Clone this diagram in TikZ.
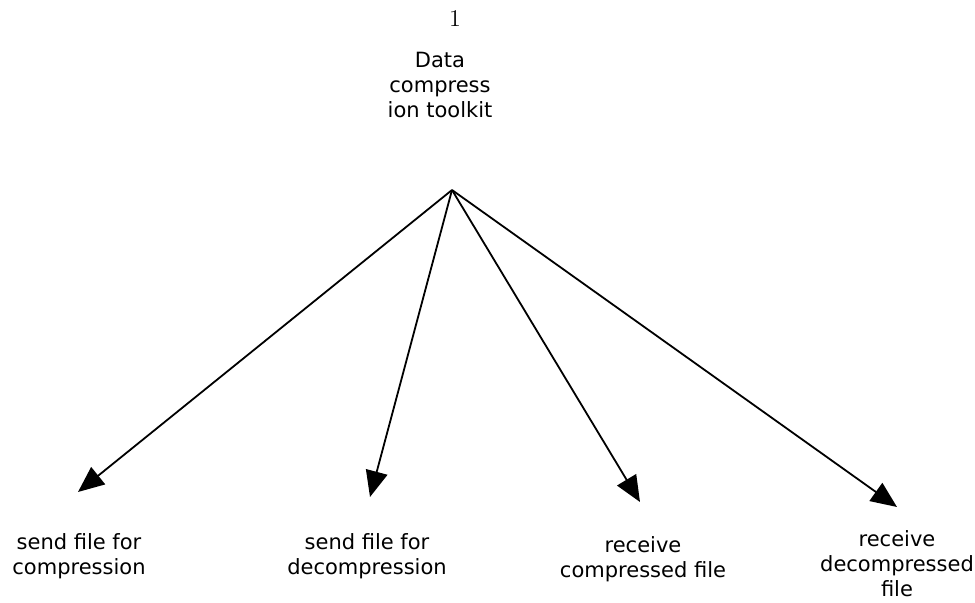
\documentclass[tikz,border=0pt]{standalone}
\usepackage{fontspec}
\newfontfamily\verd{DejaVu Sans}
\usetikzlibrary{arrows.meta,positioning}

\begin{document}
\begin{tikzpicture}[x=0.5pt, y=-0.5pt,
  lbl/.style={align=center, inner sep=0pt, anchor=north,
              font=\verd\fontsize{10.5}{12.5}\selectfont},
  ar/.style={-{Triangle[length=13pt,width=11pt]}, line width=0.9pt},
]
  \useasboundingbox (0,0) rectangle (975,603);
  % top
  \node[font=\fontsize{12}{13}\selectfont] (num) at (455,19) {1};
  \node[lbl] (toolkit) at (440,52) {Data\\ compress\\ ion toolkit};
  \coordinate (hub) at (452,190);
  % leaves
  \node[lbl] (sendc) at (79,533) {send file for\\ compression};
  \node[lbl] (sendd) at (367,533) {send file for\\ decompression};
  \node[lbl] (recvc) at (643,536) {receive\\ compressed file};
  \node[lbl] (recvd) at (897,530) {receive\\ decompressed\\ file};
  \coordinate (tipa) at (78,492);
  \coordinate (tipb) at (370,497);
  \coordinate (tipc) at (640,502);
  \coordinate (tipd) at (897,507);
  \draw[ar] (hub) -- (tipa);
  \draw[ar] (hub) -- (tipb);
  \draw[ar] (hub) -- (tipc);
  \draw[ar] (hub) -- (tipd);
\end{tikzpicture}
\end{document}
